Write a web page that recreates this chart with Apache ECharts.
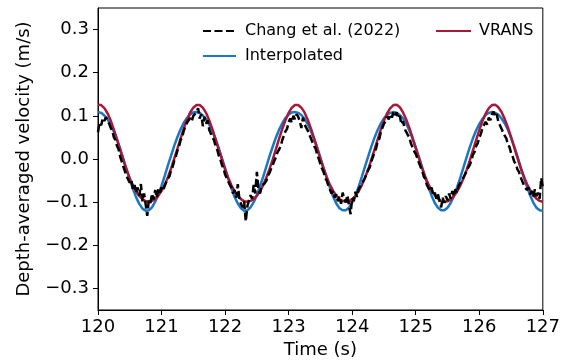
<!DOCTYPE html>
<html>
<head>
<meta charset="utf-8">
<script src="https://cdn.jsdelivr.net/npm/echarts@6/dist/echarts.min.js"></script>
<style>
html,body{margin:0;padding:0;background:#fff;}
#chart{width:563px;height:364px;}
</style>
</head>
<body>
<div id="chart"></div>
<script>
// ---- Data ----
const timeStart = 120;        // s
const modelStep = 0.05;       // s, sampling of model curves
const expStep = 0.025;        // s, sampling of experimental series

const xTicks = [120, 121, 122, 123, 124, 125, 126, 127];
const yTicks = [-0.3, -0.2, -0.1, 0.0, 0.1, 0.2, 0.3];

const seriesNames = ['Chang et al. (2022)', 'Interpolated', 'VRANS'];

// VRANS depth-averaged velocity (m/s), every 0.05 s from 120 s
const vransVel = [
  0.126, 0.125, 0.118, 0.106, 0.089, 0.068, 0.045, 0.021, -0.003, -0.025, -0.045, -0.062, -0.076, -0.086, -0.093, -0.098, -0.099, -0.097, -0.093, -0.085, -0.074, -0.060, -0.042, -0.022, 0.001, 0.024, 0.048, 0.071, 0.091, 0.108, 0.119,
  0.125, 0.125, 0.119, 0.107, 0.090, 0.069, 0.046, 0.022, -0.001, -0.024, -0.044, -0.061, -0.075, -0.085, -0.093, -0.098, -0.099, -0.097, -0.093, -0.085, -0.075, -0.060, -0.043, -0.023, -0.001, 0.023, 0.047, 0.070, 0.090, 0.107, 0.119,
  0.125, 0.125, 0.119, 0.108, 0.091, 0.071, 0.048, 0.024, 0.000, -0.022, -0.042, -0.060, -0.074, -0.085, -0.093, -0.097, -0.099, -0.098, -0.093, -0.086, -0.075, -0.061, -0.044, -0.025, -0.002, 0.021, 0.045, 0.068, 0.089, 0.106, 0.118,
  0.125, 0.126, 0.120, 0.108, 0.092, 0.072, 0.049, 0.025, 0.002, -0.021, -0.041, -0.059, -0.073, -0.084, -0.092, -0.097, -0.099, -0.098, -0.094, -0.086, -0.076, -0.062, -0.045, -0.026, -0.004, 0.020, 0.044, 0.067, 0.088, 0.105, 0.118,
  0.125, 0.126, 0.120, 0.109, 0.093, 0.073, 0.051, 0.027, 0.003, -0.020, -0.040, -0.058, -0.072, -0.084, -0.092, -0.097, -0.099
];

// Interpolated depth-averaged velocity (m/s), every 0.05 s from 120 s
const interpVel = [
  0.109, 0.107, 0.101, 0.092, 0.079, 0.063, 0.045, 0.023, 0.000, -0.024, -0.047, -0.069, -0.089, -0.104, -0.115, -0.120, -0.119, -0.112, -0.099, -0.083, -0.062, -0.039, -0.015, 0.008, 0.031, 0.051, 0.069, 0.084, 0.095, 0.103, 0.108,
  0.109, 0.107, 0.101, 0.092, 0.080, 0.064, 0.046, 0.025, 0.002, -0.022, -0.046, -0.068, -0.088, -0.103, -0.114, -0.120, -0.119, -0.112, -0.100, -0.084, -0.063, -0.041, -0.017, 0.007, 0.029, 0.050, 0.068, 0.083, 0.095, 0.103, 0.108,
  0.109, 0.107, 0.102, 0.093, 0.081, 0.065, 0.047, 0.026, 0.003, -0.021, -0.044, -0.067, -0.087, -0.103, -0.114, -0.119, -0.119, -0.113, -0.101, -0.085, -0.065, -0.042, -0.018, 0.005, 0.028, 0.049, 0.067, 0.082, 0.094, 0.102, 0.107,
  0.109, 0.107, 0.102, 0.094, 0.082, 0.066, 0.048, 0.027, 0.005, -0.019, -0.043, -0.065, -0.085, -0.102, -0.113, -0.119, -0.119, -0.113, -0.102, -0.086, -0.066, -0.044, -0.020, 0.004, 0.027, 0.048, 0.066, 0.081, 0.093, 0.102, 0.107,
  0.109, 0.107, 0.103, 0.094, 0.083, 0.068, 0.049, 0.029, 0.006, -0.018, -0.042, -0.064, -0.084, -0.101, -0.113, -0.119, -0.120
];

// Chang et al. (2022) measured velocity (m/s), every 0.025 s from 120 s
const changVel = [
  0.062, 0.085, 0.078, 0.095, 0.088, 0.097, 0.090, 0.082, 0.072, 0.066, 0.050, 0.044, 0.030, 0.022, 0.005, 0.002, -0.018, -0.022, -0.040, -0.038, -0.055,
  -0.048, -0.072, -0.060, -0.078, -0.066, -0.085, -0.058, -0.098, -0.080, -0.105, -0.132, -0.095, -0.102, -0.080, -0.094, -0.072, -0.090, -0.070, -0.078, -0.066,
  -0.074, -0.062, -0.058, -0.045, -0.040, -0.026, -0.018, -0.004, 0.006, 0.020, 0.028, 0.044, 0.050, 0.066, 0.070, 0.084, 0.080, 0.095, 0.088, 0.100,
  0.096, 0.108, 0.118, 0.094, 0.104, 0.076, 0.098, 0.082, 0.090, 0.068, 0.066, 0.050, 0.044, 0.030, 0.022, 0.008, 0.000, -0.014, -0.022, -0.036,
  -0.044, -0.052, -0.060, -0.066, -0.080, -0.072, -0.090, -0.058, -0.094, -0.104, -0.112, -0.098, -0.145, -0.110, -0.096, -0.084, -0.092, -0.060, -0.080, -0.030,
  -0.070, -0.080, -0.062, -0.066, -0.056, -0.050, -0.038, -0.032, -0.022, -0.014, -0.004, 0.004, 0.016, 0.022, 0.030, 0.044, 0.040, 0.064, 0.070, 0.085,
  0.094, 0.084, 0.100, 0.092, 0.104, 0.098, 0.088, 0.072, 0.096, 0.080, 0.082, 0.066, 0.064, 0.048, 0.046, 0.030, 0.024, 0.010, 0.000, -0.012,
  -0.022, -0.030, -0.044, -0.050, -0.062, -0.066, -0.080, -0.074, -0.090, -0.082, -0.098, -0.086, -0.104, -0.078, -0.092, -0.100, -0.084, -0.108, -0.128, -0.090,
  -0.098, -0.076, -0.088, -0.070, -0.072, -0.058, -0.060, -0.044, -0.040, -0.026, -0.020, -0.006, 0.004, 0.016, 0.024, 0.040, 0.046, 0.062, 0.066, 0.082,
  0.088, 0.098, 0.092, 0.104, 0.096, 0.110, 0.102, 0.108, 0.094, 0.100, 0.080, 0.088, 0.070, 0.074, 0.056, 0.050, 0.036, 0.032, 0.018, 0.012,
  0.002, -0.008, -0.018, -0.026, -0.040, -0.046, -0.060, -0.058, -0.074, -0.066, -0.084, -0.078, -0.092, -0.082, -0.098, -0.112, -0.090, -0.102, -0.086, -0.096,
  -0.080, -0.092, -0.074, -0.086, -0.070, -0.078, -0.062, -0.066, -0.050, -0.052, -0.036, -0.034, -0.020, -0.014, -0.004, 0.010, 0.016, 0.030, 0.036, 0.050,
  0.058, 0.072, 0.070, 0.086, 0.080, 0.096, 0.090, 0.104, 0.110, 0.098, 0.104, 0.086, 0.090, 0.070, 0.074, 0.054, 0.048, 0.034, 0.028, 0.014,
  0.006, -0.006, -0.012, -0.024, -0.030, -0.042, -0.046, -0.060, -0.058, -0.072, -0.066, -0.082, -0.074, -0.088, -0.070, -0.086, -0.078, -0.092, -0.044, -0.066
];

// ---- Build chart ----
function pairs(vals, step) {
  return vals.map((v, i) => [+(timeStart + i * step).toFixed(3), v]);
}
const FONT = "'DejaVu Sans', 'Liberation Sans', sans-serif";
const fmtY = v => (v < -1e-9 ? '\u2212' : '') + Math.abs(v).toFixed(1);

const chart = echarts.init(document.getElementById('chart'), null, {renderer: 'canvas'});
chart.setOption({
  animation: false,
  backgroundColor: '#ffffff',
  grid: {left: 98, right: 18, top: 8, bottom: 53, show: true, borderColor: '#000', borderWidth: 1, backgroundColor: 'transparent'},
  legend: [
    {
      data: [seriesNames[0], seriesNames[1]],
      orient: 'vertical', left: 197, top: 18,
      itemWidth: 33, itemHeight: 14, itemGap: 9,
      itemStyle: {opacity: 0},
      textStyle: {fontFamily: FONT, fontSize: 16, color: '#000', padding: [0, 0, 0, 4]},
      selectedMode: false
    },
    {
      data: [seriesNames[2]],
      orient: 'vertical', left: 430, top: 18,
      itemWidth: 35, itemHeight: 14,
      itemStyle: {opacity: 0},
      textStyle: {fontFamily: FONT, fontSize: 16, color: '#000', padding: [0, 0, 0, 3]},
      selectedMode: false
    }
  ],
  xAxis: {
    type: 'value', min: 120, max: 127, interval: 1,
    name: 'Time (s)', nameLocation: 'middle', nameGap: 31,
    nameTextStyle: {fontFamily: FONT, fontSize: 18, color: '#000'},
    axisLine: {show: true, onZero: false, lineStyle: {color: '#000', width: 1}},
    axisTick: {show: true, inside: false, length: 5, lineStyle: {color: '#000'}, customValues: xTicks},
    axisLabel: {fontFamily: FONT, fontSize: 18, color: '#000', margin: 8, customValues: xTicks, formatter: v => String(Math.round(v))},
    splitLine: {show: false}
  },
  yAxis: {
    type: 'value', min: -0.35, max: 0.35,
    name: 'Depth-averaged velocity (m/s)', nameLocation: 'middle', nameGap: 65,
    nameTextStyle: {fontFamily: FONT, fontSize: 18, color: '#000'},
    axisLine: {show: true, onZero: false, lineStyle: {color: '#000', width: 1}},
    axisTick: {show: true, inside: false, length: 5, lineStyle: {color: '#000'}, customValues: yTicks},
    axisLabel: {fontFamily: FONT, fontSize: 18, color: '#000', margin: 9, customValues: yTicks, formatter: fmtY},
    splitLine: {show: false}
  },
  series: [
    {
      name: seriesNames[1], type: 'line', data: pairs(interpVel, modelStep),
      showSymbol: false, symbol: 'none', z: 2,
      lineStyle: {color: '#1a78c2', width: 2.5}, itemStyle: {color: '#1a78c2'}
    },
    {
      name: seriesNames[2], type: 'line', data: pairs(vransVel, modelStep),
      showSymbol: false, symbol: 'none', z: 3,
      lineStyle: {color: '#a8183a', width: 2.5}, itemStyle: {color: '#a8183a'}
    },
    {
      name: seriesNames[0], type: 'line', data: pairs(changVel, expStep),
      showSymbol: false, symbol: 'none', z: 4,
      lineStyle: {color: '#000', width: 2.5, type: [8, 3.5]}, itemStyle: {color: '#000'}
    }
  ]
});
</script>
</body>
</html>
